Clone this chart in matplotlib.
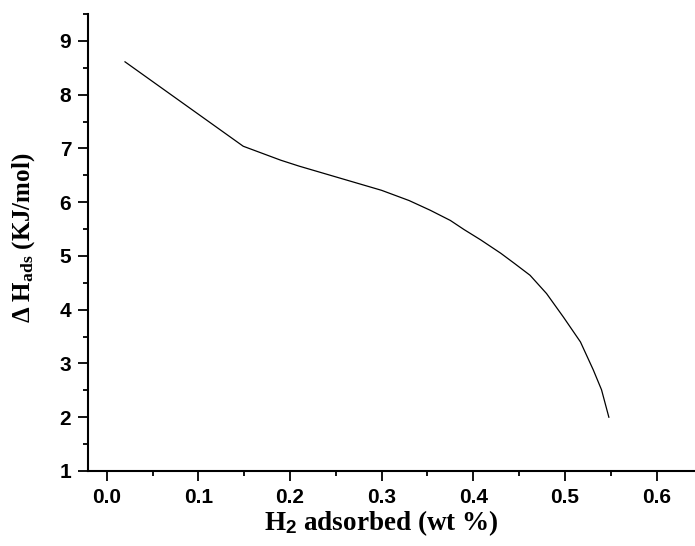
import matplotlib
matplotlib.use("Agg")
import matplotlib.pyplot as plt
from matplotlib.ticker import MultipleLocator

# bold Times for the labels, bold Arial-like for the sans subscript
plt.rcParams['mathtext.fontset'] = 'custom'
plt.rcParams['mathtext.rm'] = 'Liberation Serif:bold'
plt.rcParams['mathtext.it'] = 'Liberation Serif:bold'
plt.rcParams['mathtext.bf'] = 'Liberation Serif:bold'
plt.rcParams['mathtext.sf'] = 'Liberation Sans:bold'

# curve
h2_wt = [0.02, 0.149, 0.19, 0.21, 0.25, 0.30, 0.33, 0.353, 0.375, 0.39,
         0.408, 0.43, 0.445, 0.462, 0.48, 0.4985, 0.517, 0.531, 0.540, 0.548]
dH_ads = [8.61, 7.04, 6.78, 6.67, 6.47, 6.22, 6.03, 5.85, 5.66, 5.49,
          5.30, 5.05, 4.86, 4.64, 4.30, 3.86, 3.40, 2.88, 2.51, 2.0]

xticks = [0.0, 0.1, 0.2, 0.3, 0.4, 0.5, 0.6]
yticks = [1, 2, 3, 4, 5, 6, 7, 8, 9]

fig = plt.figure(figsize=(6.95, 5.46), dpi=100)
ax = fig.add_axes([0.1266, 0.1374, 0.8734, 0.837])

ax.plot(h2_wt, dH_ads, color='black', lw=0.9)

ax.set_xlim(-0.0204, 0.642)
ax.set_ylim(1, 9.5)
ax.set_xticks(xticks)
ax.set_yticks(yticks)
ax.set_xticklabels(['%.1f' % v for v in xticks])
ax.set_yticklabels([str(v) for v in yticks])
ax.xaxis.set_minor_locator(MultipleLocator(0.05))
ax.yaxis.set_minor_locator(MultipleLocator(0.5))

for s in ['top', 'right']:
    ax.spines[s].set_visible(False)
for s in ['left', 'bottom']:
    ax.spines[s].set_linewidth(1.5)

ax.tick_params(which='major', direction='out', length=7, width=1.3, pad=5)
ax.tick_params(which='minor', direction='out', length=3.5, width=1.3)
for lab in ax.get_xticklabels() + ax.get_yticklabels():
    lab.set_fontfamily('Liberation Sans')
    lab.set_fontweight('bold')
    lab.set_fontsize(15)

ax.set_xlabel(r'H$_{\mathsf{2}}$ adsorbed (wt %)', fontfamily='Liberation Serif',
              fontweight='bold', fontsize=19.5)
ax.xaxis.set_label_coords(0.483, -0.082)
ax.set_ylabel(r'$\Delta$ H$_{\mathrm{ads}}$ (KJ/mol)', fontfamily='Liberation Serif',
              fontweight='bold', fontsize=18)
ax.yaxis.set_label_coords(-0.084, 0.51)

fig.savefig('out.png', dpi=100)
